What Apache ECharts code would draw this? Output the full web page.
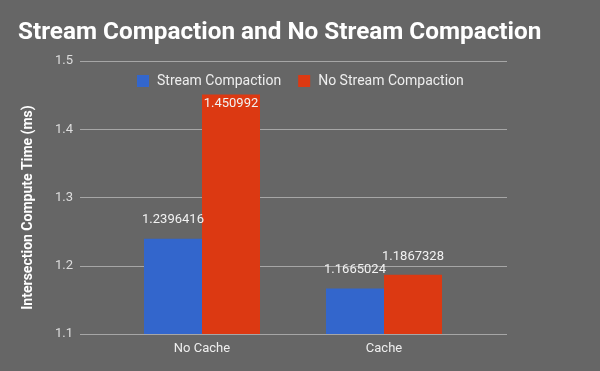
<!DOCTYPE html>
<html>
<head>
<meta charset="utf-8">
<script src="https://cdn.jsdelivr.net/npm/echarts@6/dist/echarts.min.js"></script>
<style>
html,body{margin:0;padding:0;background:#666666;}
#chart{width:600px;height:371px;}
</style>
</head>
<body>
<div id="chart"></div>
<script>
const categories = ['No Cache', 'Cache'];
const streamCompaction = [1.2396416, 1.1665024];
const noStreamCompaction = [1.450992, 1.1867328];
const yTicks = { min: 1.1, max: 1.5, interval: 0.1 };
const seriesNames = ['Stream Compaction', 'No Stream Compaction'];
const titleText = 'Stream Compaction and No Stream Compaction';
const yAxisTitle = 'Intersection Compute Time (ms)';

const chart = echarts.init(document.getElementById('chart'), null, { renderer: 'canvas' });
const font = 'Roboto';
const labelStyle = { color: '#f2f2f2', fontFamily: font, fontSize: 13 };

chart.setOption({
  backgroundColor: '#666666',
  animation: false,
  title: {
    text: titleText, left: 18, top: 21, padding: 0,
    textStyle: { color: '#ffffff', fontFamily: font, fontWeight: 'bold', fontSize: 24.3 }
  },
  legend: {
    data: seriesNames, left: 137, top: 74, padding: 0,
    icon: 'rect', itemWidth: 12, itemHeight: 12, itemGap: 17,
    textStyle: { color: '#eeeeee', fontFamily: font, fontSize: 14, padding: [0, 0, 0, 3] }
  },
  grid: [
    { left: 80, right: 93, top: 61, bottom: 37 },
    { left: 111, right: 125, top: 61, bottom: 37 }
  ],
  xAxis: [
    { type: 'category', gridIndex: 0, data: categories, show: false },
    {
      type: 'category', gridIndex: 1, data: categories,
      axisLine: { show: false }, axisTick: { show: false },
      axisLabel: { color: '#eeeeee', fontFamily: font, fontSize: 13, margin: 8 }
    }
  ],
  yAxis: [
    {
      type: 'value', gridIndex: 0, min: yTicks.min, max: yTicks.max, interval: yTicks.interval,
      axisLine: { show: false }, axisTick: { show: false },
      axisLabel: { color: '#dddddd', fontFamily: font, fontSize: 13, margin: 7,
        formatter: v => v.toFixed(1) },
      splitLine: { lineStyle: { color: '#a6a6a6', width: 1 } },
      name: yAxisTitle, nameLocation: 'middle', nameGap: 45,
      nameTextStyle: { color: '#ffffff', fontFamily: font, fontWeight: 'bold', fontSize: 14, padding: [0, 20, 0, 0] }
    },
    {
      type: 'value', gridIndex: 1, min: yTicks.min, max: yTicks.max, interval: yTicks.interval,
      show: false, splitLine: { show: false }
    }
  ],
  series: [
    {
      name: seriesNames[0], type: 'bar', xAxisIndex: 1, yAxisIndex: 1,
      data: streamCompaction, barWidth: 58, barGap: '0%',
      itemStyle: { color: '#3366cc' },
      label: { show: true, position: 'top', distance: 12, ...labelStyle,
        formatter: p => String(p.value) }
    },
    {
      name: seriesNames[1], type: 'bar', xAxisIndex: 1, yAxisIndex: 1,
      data: noStreamCompaction.map((v, i) => i === 0
        ? { value: v, label: { position: 'insideTop', distance: 3 } }
        : v),
      barWidth: 58, barGap: '0%',
      itemStyle: { color: '#dc3912' },
      label: { show: true, position: 'top', distance: 12, ...labelStyle,
        formatter: p => String(p.value) }
    }
  ]
});
</script>
</body>
</html>
